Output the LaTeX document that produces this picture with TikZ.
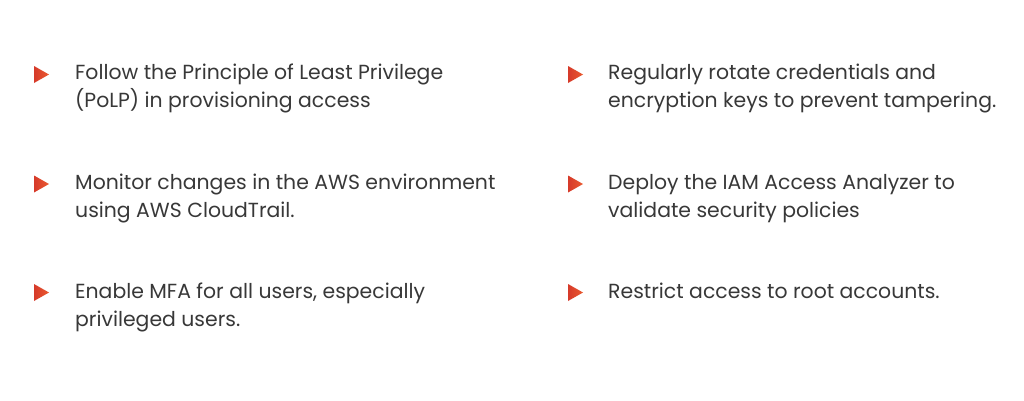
\documentclass[tikz,border=0pt]{standalone}
\usepackage{fontspec}
\setmainfont{Poppins}
\definecolor{txt}{HTML}{383838}
\definecolor{bulA}{HTML}{D63A2A}
\definecolor{bulB}{HTML}{EA5A30}
\newcommand{\itemlines}[2]{\vtop{\baselineskip=28pt\hbox{#1}\hbox{#2}}}
\tikzset{
  itemtext/.style={anchor=base west, inner sep=0pt, text=txt, font=\fontsize{20.4}{28}\selectfont},
  bullet/.style={left color=bulA, right color=bulB}
}
\begin{document}
\begin{tikzpicture}[x=1pt,y=-1pt]
\useasboundingbox (0,0) rectangle (1024,400);
\fill[white] (0,0) rectangle (1024,400);
% bullets
\foreach \bx in {34,568}{
  \foreach \by in {74.5,184,292.5}{
    \shade[bullet] (\bx,\by-8.5) -- (\bx+15,\by) -- (\bx,\by+8.5) -- cycle;
  }
}
\node[itemtext] (l1) at (75,79.5) {\itemlines{Follow the Principle of Least Privilege}{(PoLP) in provisioning access}};
\node[itemtext] (l2) at (75,189) {\itemlines{Monitor changes in the AWS environment}{using AWS CloudTrail.}};
\node[itemtext] (l3) at (75,298) {\itemlines{Enable MFA for all users, especially}{privileged users.}};
\node[itemtext] (r1) at (608,79.5) {\itemlines{Regularly rotate credentials and}{encryption keys to prevent tampering.}};
\node[itemtext] (r2) at (608,189) {\itemlines{Deploy the IAM Access Analyzer to}{validate security policies}};
\node[itemtext] (r3) at (608,298) {\hbox{Restrict access to root accounts.}};
\end{tikzpicture}
\end{document}
